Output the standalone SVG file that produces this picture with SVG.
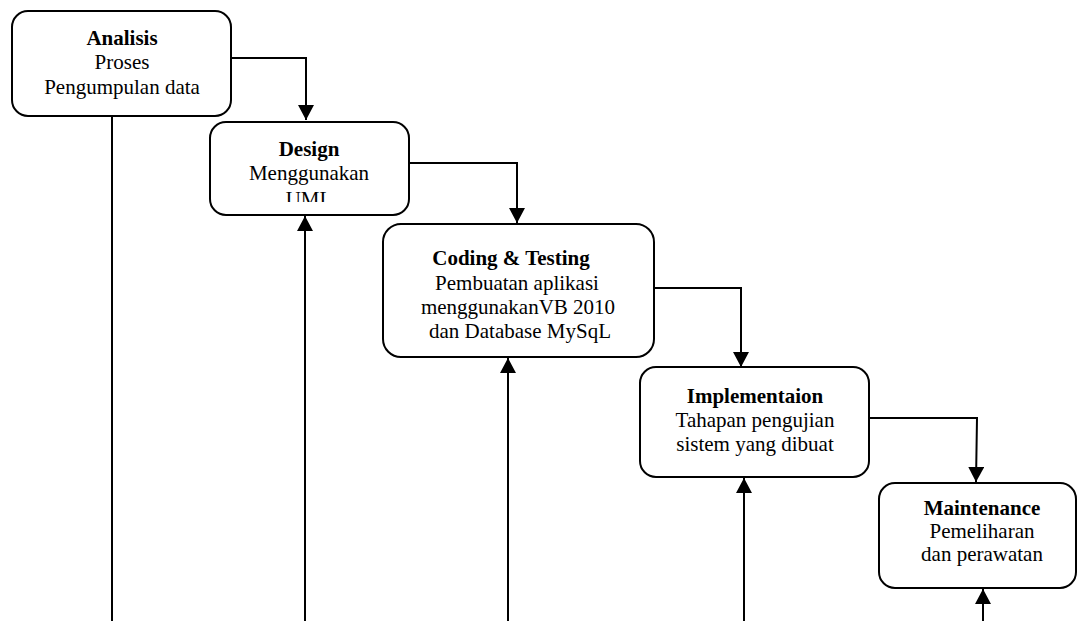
<svg xmlns="http://www.w3.org/2000/svg" width="1078" height="621" viewBox="0 0 1078 621">
<style>
.box{fill:#fff;stroke:#000;stroke-width:2}
.t{font-family:"Liberation Serif","Times New Roman",serif;font-size:21px;fill:#000;text-anchor:middle}
.b{font-weight:bold}
.c{fill:none;stroke:#000;stroke-width:2}
</style>
<defs>
<marker id="ah" markerUnits="userSpaceOnUse" markerWidth="16" markerHeight="16" viewBox="0 0 16 16" refX="15" refY="8" orient="auto">
<path d="M0,0 L15,8 L0,16 Z" fill="#000"/>
</marker>
<clipPath id="clipD"><rect x="210" y="122" width="199" height="80"/></clipPath>
</defs>
<rect width="1078" height="621" fill="#fff"/>
<g id="connectors">
<polyline class="c" points="231,58 306,58 306,120" marker-end="url(#ah)"/>
<polyline class="c" points="409,163 517,163 517,223" marker-end="url(#ah)"/>
<polyline class="c" points="654,288 741,288 741,367" marker-end="url(#ah)"/>
<polyline class="c" points="869,418 977,418 976,482" marker-end="url(#ah)"/>
<line class="c" x1="112" y1="116" x2="112" y2="621"/>
<line class="c" x1="305" y1="621" x2="305" y2="216" marker-end="url(#ah)"/>
<line class="c" x1="508" y1="621" x2="508" y2="358" marker-end="url(#ah)"/>
<line class="c" x1="744" y1="621" x2="744" y2="478" marker-end="url(#ah)"/>
<line class="c" x1="983" y1="621" x2="983" y2="589" marker-end="url(#ah)"/>
</g>
<g id="analisis">
<rect class="box" x="12" y="11" width="219" height="105" rx="16"/>
<text class="t b" x="122" y="45">Analisis</text>
<text class="t" x="122" y="69">Proses</text>
<text class="t" x="122" y="94">Pengumpulan data</text>
</g>
<g id="design">
<rect class="box" x="210" y="122" width="199" height="93" rx="16"/>
<text class="t b" x="309" y="156">Design</text>
<text class="t" x="309" y="180">Menggunakan</text>
<text class="t" x="309" y="206" clip-path="url(#clipD)">UML</text>
</g>
<g id="coding">
<rect class="box" x="383" y="224" width="271" height="133" rx="18"/>
<text class="t b" x="511" y="265">Coding &amp; Testing</text>
<text class="t" x="517" y="290">Pembuatan aplikasi</text>
<text class="t" x="518" y="314">menggunakanVB 2010</text>
<text class="t" x="520" y="338">dan Database MySqL</text>
</g>
<g id="implementaion">
<rect class="box" x="640" y="367" width="229" height="110" rx="16"/>
<text class="t b" x="755" y="403">Implementaion</text>
<text class="t" x="755" y="427">Tahapan pengujian</text>
<text class="t" x="755" y="451">sistem yang dibuat</text>
</g>
<g id="maintenance">
<rect class="box" x="879" y="483" width="197" height="105" rx="16"/>
<text class="t b" x="982" y="515">Maintenance</text>
<text class="t" x="982" y="538">Pemeliharan</text>
<text class="t" x="982" y="561">dan perawatan</text>
</g>
</svg>
